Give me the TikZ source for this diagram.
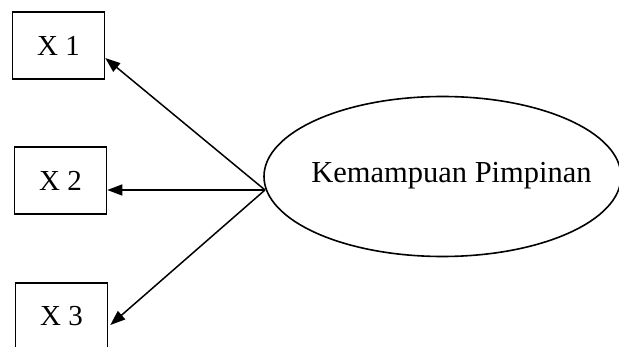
\documentclass[tikz,border=0pt]{standalone}
\usepackage{fontspec}
\setmainfont{Liberation Serif}
\usetikzlibrary{shapes.geometric,arrows.meta}
\begin{document}
\begin{tikzpicture}[x=1pt,y=-1pt,
  obs/.style={draw,line width=1.6pt,minimum width=92pt,minimum height=67pt,inner sep=0pt,font=\fontsize{29}{32}\selectfont},
  lat/.style={draw,ellipse,line width=1.6pt,minimum width=357pt,minimum height=160pt,inner sep=0pt,font=\fontsize{30.5}{34}\selectfont},
  link/.style={line width=1.5pt,-{Triangle[length=15pt,width=11pt]}}]
\useasboundingbox (0,0) rectangle (619,347);
\node[obs] (x1) at (58.5,45.5) {X 1};
\node[obs] (x2) at (60.5,180.5) {X 2};
\node[obs] (x3) at (61.5,316.5) {X 3};
\node[lat] (k) at (442.5,176.5) {\makebox[0pt]{\hspace{18pt}\raisebox{-6pt}[0pt][0pt]{Kemampuan Pimpinan}}};
\coordinate (src) at (265,190);
\draw[link] (src) -- ([yshift=-12.5pt]x1.east);
\draw[link] (src) -- ([yshift=-9.5pt]x2.east);
\draw[link] (src) -- ([yshift=-8.5pt,xshift=2pt]x3.east);
\end{tikzpicture}
\end{document}
